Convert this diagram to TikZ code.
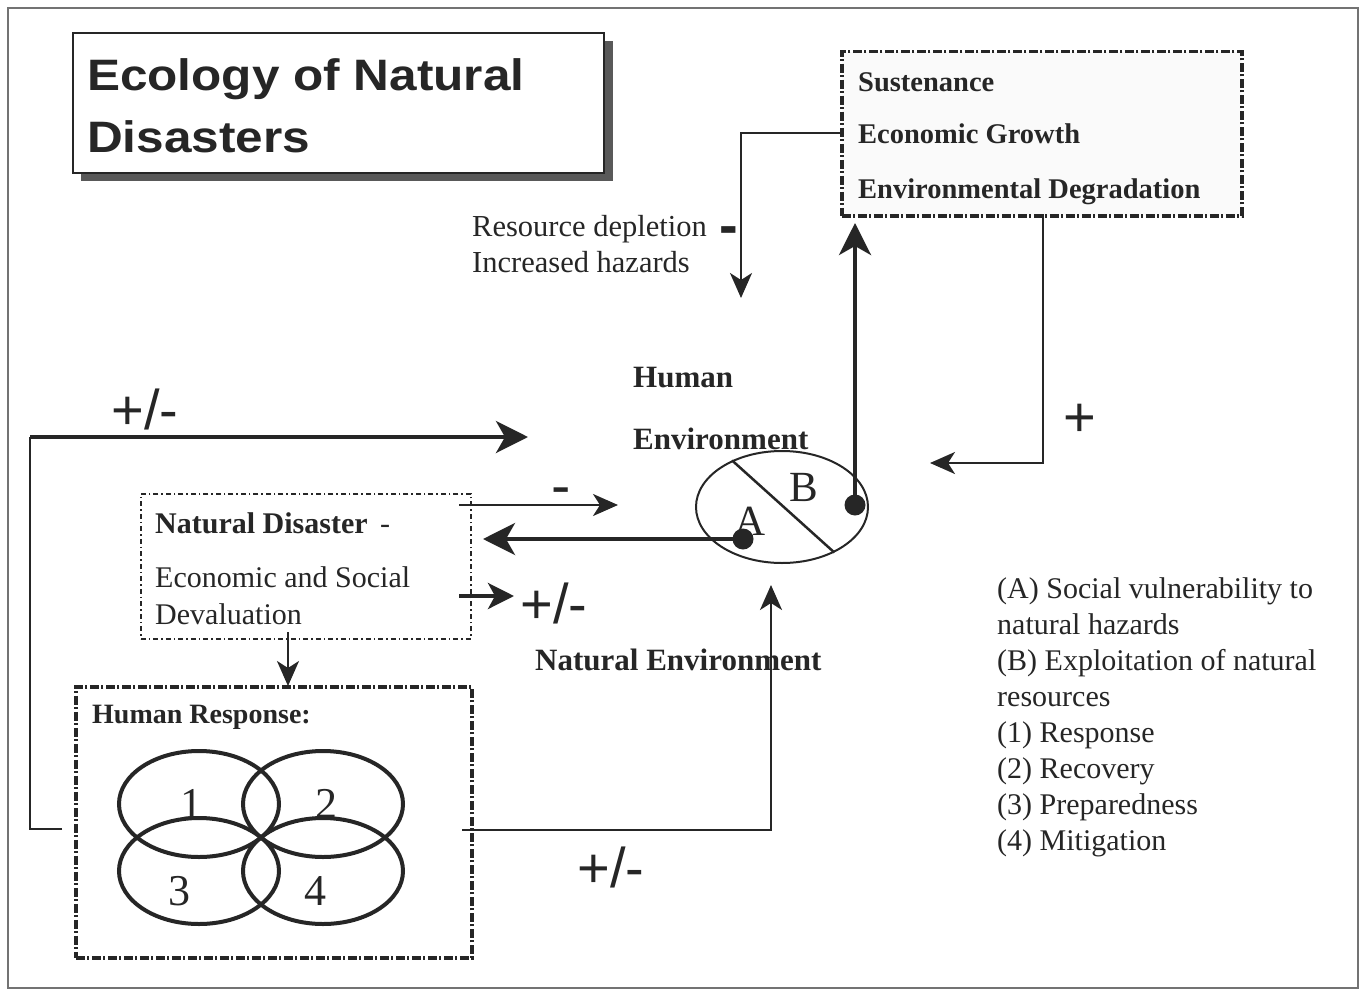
\documentclass[tikz,border=0pt]{standalone}
\usepackage{graphicx}
\usepackage{fontspec}
\setmainfont{Liberation Serif}
\newfontfamily\arialf{Liberation Sans}
\usetikzlibrary{arrows.meta,shapes.geometric}
\definecolor{ink}{gray}{0.15}
\tikzset{
  conn/.style={line width=2.2pt, draw=ink},
  thickconn/.style={line width=4pt, draw=ink},
  tipsmall/.style={-{Stealth[length=25pt,width=22pt,inset=7pt]}},
  tipbig/.style={-{Stealth[length=32pt,width=32pt,inset=9pt]}},
  lbl/.style={inner sep=0pt, anchor=base west, text=ink},
  heavybox/.style={draw=ink, line width=3.5pt, dash pattern=on 9pt off 2.5pt on 2pt off 2.5pt, anchor=north west, inner sep=0pt},
  lightbox/.style={draw=ink, line width=1.8pt, dash pattern=on 5pt off 3pt on 1.5pt off 3pt, anchor=north west, inner sep=0pt},
  petal/.style={draw=ink, line width=4pt, ellipse, minimum width=160pt, minimum height=106pt, inner sep=0pt},
  dotnode/.style={circle, fill=ink, minimum size=21pt, inner sep=0pt},
  sign/.style={inner sep=0pt, anchor=base, text=ink, font=\arialf\fontsize{56}{60}\selectfont},
  serifb/.style={font=\bfseries\fontsize{#1}{#1}\selectfont},
  serifr/.style={font=\fontsize{#1}{#1}\selectfont}
}
\begin{document}
\begin{tikzpicture}[x=1pt,y=-1pt]
\useasboundingbox (0,0) rectangle (1362,990);
\fill[white] (0,0) rectangle (1362,990);
% outer frame
\draw[black!55, line width=1.5pt] (8,8) rectangle (1358,988);

% title
\fill[black!65] (81,41) rectangle (613,181);
\node[draw=ink, fill=white, line width=2pt, anchor=north west, inner sep=0pt, minimum width=531pt, minimum height=140pt] (title) at (72,32) {};
\node[lbl, font=\arialf\bfseries\fontsize{44}{50}\selectfont] (t1) at (87,90) {\scalebox{1.125}[1]{Ecology of Natural}};
\node[lbl, font=\arialf\bfseries\fontsize{44}{50}\selectfont] (t2) at (87,152) {\scalebox{1.125}[1]{Disasters}};

% top right box
\node[heavybox, fill=black!2, minimum width=400pt, minimum height=164pt] (goals) at (840,50) {};
\node[lbl, serifb=28.5] (g1) at (858,92) {Sustenance};
\node[lbl, serifb=28.5] (g2) at (858,143) {Economic Growth};
\node[lbl, serifb=28.5] (g3) at (858,198) {Environmental Degradation};

% resource depletion connector
\coordinate (egOut) at (840,133);
\coordinate (rdTip) at (741,298);
\draw[conn, tipsmall] (egOut) -| (rdTip);
\node[lbl, serifr=30.5] (rd1) at (472,236) {Resource depletion};
\node[lbl, serifr=30.5] (rd2) at (472,272) {Increased hazards};
\node[sign, font=\arialf\bfseries\fontsize{56}{60}\selectfont] (rdm) at (729,244) {-};

% human environment
\node[lbl, serifb=31] (he1) at (633,387) {Human};
\node[lbl, serifb=31] (he2) at (633,449) {Environment};
\node[draw=ink, line width=2pt, ellipse, minimum width=172pt, minimum height=112pt, inner sep=0pt] (env) at (782,507) {};
\draw[ink, line width=2.5pt] (env.137) -- (env.-41);
\node[inner sep=0pt, anchor=base, text=ink, serifr=43] (labB) at (804,501) {B};
\node[inner sep=0pt, anchor=base, text=ink, serifr=43] (labA) at (750,535) {A};
\node[dotnode] (dotA) at (743,539) {};
\node[dotnode] (dotB) at (855,505) {};

% B up to goals
\coordinate (gIn) at (855,223);
\draw[thickconn, tipbig] (dotB.center) -- (gIn);

% goals down to environment (+)
\coordinate (gOut) at (1043,214);
\coordinate (envR) at (930,463);
\draw[conn, tipsmall] (gOut) |- (envR);
\node[sign] (plusR) at (1080,436) {+};

% natural disaster box
\node[lightbox, minimum width=330pt, minimum height=145pt] (nd) at (140,493) {};
\node[lbl, serifb=30] (nd1) at (155,533) {Natural Disaster\textmd{ \,-}};
\node[lbl, serifr=30] (nd2) at (155,587) {Economic and Social};
\node[lbl, serifr=30] (nd3) at (155,624) {Devaluation};

% A to natural disaster
\coordinate (ndIn) at (483,539);
\draw[thickconn, tipbig] (dotA.center) -- (ndIn);

% nd to environment (-)
\coordinate (ndOut1) at (459,505);
\coordinate (envL) at (618,505);
\draw[conn, tipsmall] (ndOut1) -- (envL);
\node[sign, font=\arialf\fontsize{58}{60}\selectfont] (minus1) at (561,505) {-};

% nd out +/-
\coordinate (ndOut2) at (459,596);
\coordinate (ndOut2t) at (514,596);
\draw[thickconn, -{Stealth[length=26pt,width=26pt,inset=7pt]}] (ndOut2) -- (ndOut2t);
\node[sign] (pm2) at (554,623) {+/-};

% nd down to human response
\coordinate (ndDown) at (288,632);
\coordinate (hrIn) at (288,686);
\draw[conn, tipsmall] (ndDown) -- (hrIn);

% human response box
\node[heavybox, minimum width=396pt, minimum height=271pt] (hr) at (74,685) {};
\node[lbl, serifb=28] (hrt) at (92,723) {Human Response:};
\node[petal] (p1) at (199,804) {};
\node[petal] (p2) at (323,804) {};
\node[petal] (p3) at (199,871) {};
\node[petal] (p4) at (323,871) {};
\node[inner sep=0pt, anchor=base, text=ink, serifr=44] (n1) at (191,818) {1};
\node[inner sep=0pt, anchor=base, text=ink, serifr=44] (n2) at (326,818) {2};
\node[inner sep=0pt, anchor=base, text=ink, serifr=44] (n3) at (179,905) {3};
\node[inner sep=0pt, anchor=base, text=ink, serifr=44] (n4) at (315,905) {4};

% feedback left
\coordinate (hrL) at (62,829);
\coordinate (fb1) at (30,829);
\coordinate (fb2) at (30,437);
\coordinate (fbTip) at (528,437);
\draw[conn, line width=2pt] (hrL) -- (fb1) -- (fb2);
\draw[thickconn, tipbig] (fb2) -- (fbTip);
\node[sign] (pm1) at (145,429) {+/-};

% feedback to natural environment
\coordinate (hrR) at (462,830);
\coordinate (neTip) at (771,585);
\draw[conn, tipsmall] (hrR) -| (neTip);
\node[sign] (pm3) at (611,887) {+/-};
\node[lbl, serifb=31] (ne) at (535,670) {Natural Environment};

% legend
\node[lbl, serifr=30] (lg1) at (997,598) {(A) Social vulnerability to};
\node[lbl, serifr=30] (lg2) at (997,634) {natural hazards};
\node[lbl, serifr=30] (lg3) at (997,670) {(B) Exploitation of natural};
\node[lbl, serifr=30] (lg4) at (997,706) {resources};
\node[lbl, serifr=30] (lg5) at (997,742) {(1) Response};
\node[lbl, serifr=30] (lg6) at (997,778) {(2) Recovery};
\node[lbl, serifr=30] (lg7) at (997,814) {(3) Preparedness};
\node[lbl, serifr=30] (lg8) at (997,850) {(4) Mitigation};
\end{tikzpicture}
\end{document}
